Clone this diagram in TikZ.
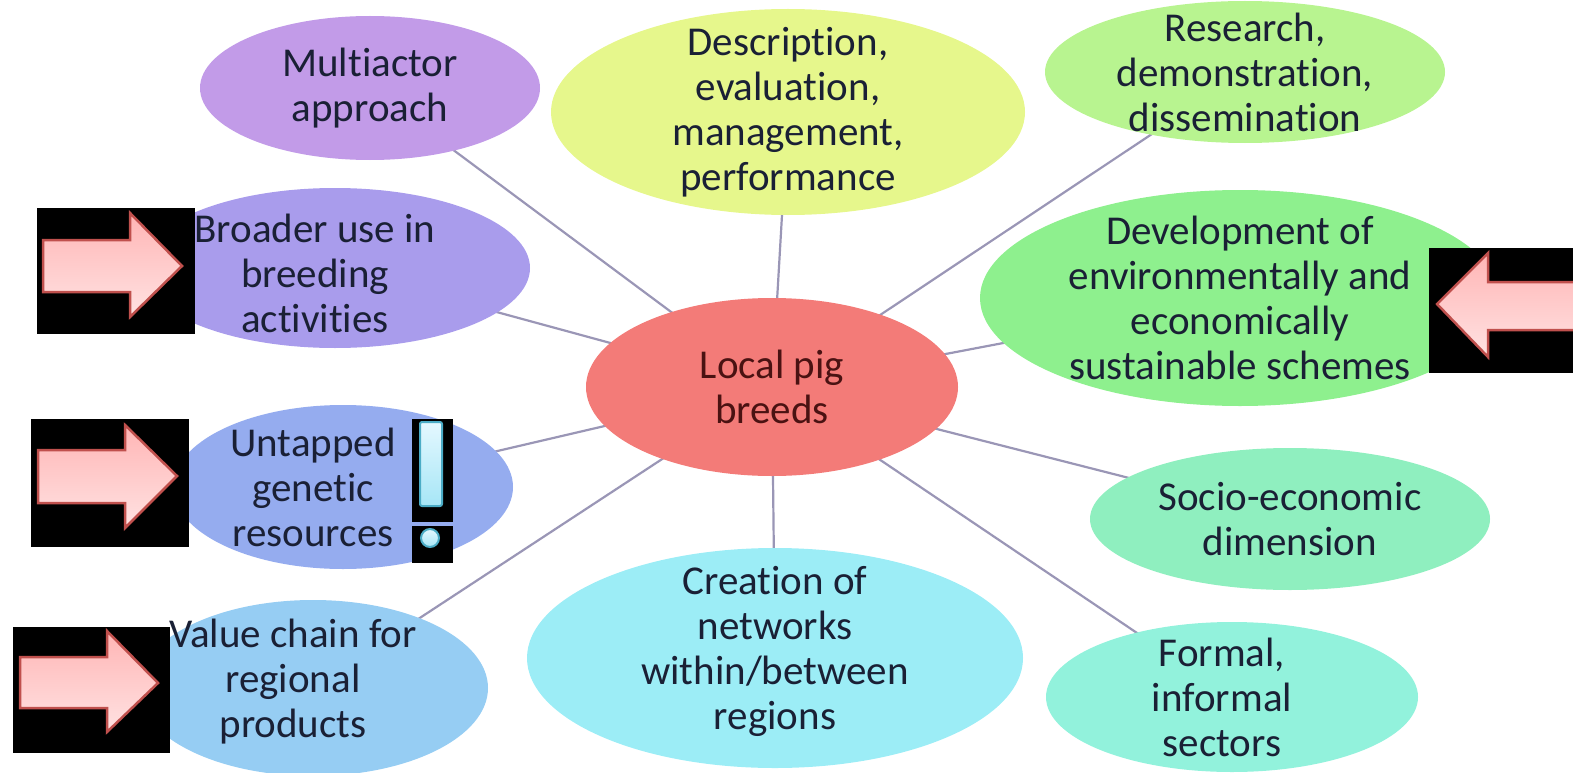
\documentclass[tikz,border=0pt]{standalone}
\usepackage{fontspec}
\setmainfont[Ligatures=NoCommon]{Carlito}
\usetikzlibrary{shapes.geometric,backgrounds}
\definecolor{txt}{HTML}{1A2035}
\definecolor{txtred}{HTML}{4A1212}
\definecolor{linkc}{HTML}{9A96B6}
\definecolor{cMulti}{HTML}{C29BE8}
\definecolor{cDesc}{HTML}{E6F78C}
\definecolor{cRes}{HTML}{B8F490}
\definecolor{cBroad}{HTML}{A99CEC}
\definecolor{cDev}{HTML}{8EF08E}
\definecolor{cPig}{HTML}{F37B78}
\definecolor{cUnt}{HTML}{95ACEF}
\definecolor{cSocio}{HTML}{8FEFBF}
\definecolor{cValue}{HTML}{96CDF3}
\definecolor{cCre}{HTML}{9CEDF6}
\definecolor{cForm}{HTML}{92F2DC}
\definecolor{arrowred}{HTML}{C0504D}
\definecolor{pinktop}{HTML}{FFB5B5}
\definecolor{pinkbot}{HTML}{FFE2E2}
\definecolor{teal}{HTML}{4BACC6}
\definecolor{cyantop}{HTML}{E4F8FF}
\definecolor{cyanbot}{HTML}{A6E6F6}
\tikzset{
  x=1pt, y=-1pt,
  ell/.style={ellipse, draw=none, inner sep=0pt, outer sep=0pt},
  lab/.style={align=center, text=txt, font=\fontsize{41}{45}\selectfont, inner sep=0pt},
  link/.style={draw=linkc, line width=2.2pt},
  blackbox/.style={fill=black, draw=none},
  pinkarrow/.style={draw=arrowred, line width=2.5pt, line join=miter, top color=pinktop, bottom color=pinkbot},
  excl/.style={draw=teal, line width=2pt, top color=cyantop, bottom color=cyanbot},
}
\begin{document}
\begin{tikzpicture}
\useasboundingbox (0,0) rectangle (1573,773);
\clip (0,0) rectangle (1573,773);

% ellipses
\node[ell, fill=cMulti, minimum width=340, minimum height=144,
  label={[lab]center:{Multiactor\\approach}}] (multi) at (370,88) {};
\node[ell, fill=cDesc, minimum width=474, minimum height=206,
  label={[lab]center:{Description,\\evaluation,\\management,\\performance}}] (desc) at (788,112) {};
\node[ell, fill=cRes, minimum width=400, minimum height=142,
  label={[lab]center:{Research,\\demonstration,\\dissemination}}] (res) at (1245,72) {};
\node[ell, fill=cBroad, minimum width=390, minimum height=160,
  label={[lab, xshift=-20, yshift=-5]center:{Broader use in\\breeding\\activities}}] (broad) at (335,268) {};
\node[ell, fill=cDev, minimum width=520, minimum height=216,
  label={[lab]center:{Development of\\environmentally and\\economically\\sustainable schemes}}] (dev) at (1240,298) {};
\node[ell, fill=cPig, minimum width=372, minimum height=178,
  label={[lab, text=txtred]center:{Local pig\\breeds}}] (pig) at (772,387) {};
\node[ell, fill=cUnt, minimum width=340, minimum height=164,
  label={[lab, xshift=-30]center:{Untapped\\genetic\\resources}}] (unt) at (343,487) {};
\node[ell, fill=cSocio, minimum width=400, minimum height=142,
  label={[lab]center:{Socio-economic\\dimension}}] (socio) at (1290,519) {};
\node[ell, fill=cValue, minimum width=350, minimum height=176,
  label={[lab, xshift=-20, yshift=6]center:{Value chain for\\regional\\products}}] (value) at (313,688) {};
\node[ell, fill=cCre, minimum width=496, minimum height=220,
  label={[lab, yshift=7]center:{Creation of\\networks\\within/between\\regions}}] (cre) at (775,658) {};
\node[ell, fill=cForm, minimum width=372, minimum height=150,
  label={[lab, xshift=-10]center:{Formal,\\informal\\sectors}}] (form) at (1232,697) {};

% connectors
\begin{pgfonlayer}{background}
\foreach \n in {multi,desc,res,broad,dev,unt,socio,value,cre,form}
  \draw[link] (\n.center) -- (pig.center);
\end{pgfonlayer}

% black boxes with pink arrows
\fill[blackbox] (37,208) rectangle (195,334);
\filldraw[pinkarrow] (43,240) -- (130,240) -- (130,213) -- (182,266) -- (130,317) -- (130,292) -- (43,292) -- cycle;

\fill[blackbox] (31,419) rectangle (189,547);
\filldraw[pinkarrow] (38,450) -- (125,450) -- (125,425) -- (177,476) -- (125,528) -- (125,503) -- (38,503) -- cycle;

\fill[blackbox] (13,627) rectangle (170,753);
\filldraw[pinkarrow] (20,657) -- (107,657) -- (107,631) -- (158,683) -- (107,732) -- (107,708) -- (20,708) -- cycle;

\fill[blackbox] (1429,248) rectangle (1580,373);
\filldraw[pinkarrow] (1590,282) -- (1488,282) -- (1488,253) -- (1437,304) -- (1488,357) -- (1488,330) -- (1590,330) -- cycle;

% exclamation mark
\fill[blackbox] (412,419) rectangle (453,522);
\fill[blackbox] (412,526) rectangle (453,563);
\filldraw[excl, rounded corners=2pt] (420,422) rectangle (442,506);
\filldraw[excl] (430,538) circle (9);
\end{tikzpicture}
\end{document}
